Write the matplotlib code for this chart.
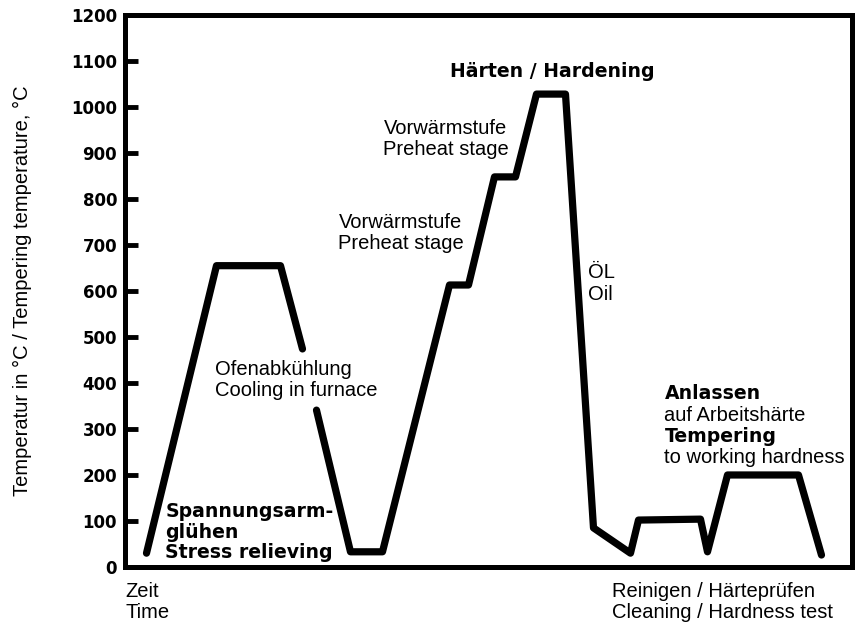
import numpy as np
import matplotlib
matplotlib.use("Agg")
import matplotlib.pyplot as plt

# time axis is arbitrary; temperatures in degC
time = [21, 91, 155, 177, np.nan, 191, 225, 257, 324, 343, 369, 390, 411, 440,
        468, 505, 513, 575, 582, 602, 673, 696]
temp = [30, 655, 655, 474, np.nan, 341, 33, 33, 613, 613, 848, 848, 1028, 1028,
        85, 30, 102, 104, 33, 200, 200, 26]
y_ticks = list(range(0, 1300, 100))

regular = {"family": "Liberation Sans", "size": 14.5}
bold = {"family": "DejaVu Sans", "size": 13.6, "weight": "bold"}

fig = plt.figure(figsize=(8.56, 6.29), dpi=100, facecolor="white")
ax = fig.add_axes([0.1466, 0.0986, 0.8493, 0.8776])

ax.plot(time, temp, color="black", lw=5.2, solid_joinstyle="round",
        solid_capstyle="round")

ax.set_xlim(0, 727)
ax.set_ylim(0, 1200)
ax.set_xticks([])
ax.set_yticks(y_ticks)
ax.set_yticklabels([str(v) for v in y_ticks],
                   fontdict={"family": "DejaVu Sans", "size": 12, "weight": "bold"})
ax.tick_params(axis="y", direction="in", length=9, width=3.5, pad=6)
for s in ax.spines.values():
    s.set_linewidth(3.6)

# annotations
ax.text(427, 1078, "Härten / Hardening", ha="center", va="center", fontdict=bold)
ax.text(258, 930, "Vorwärmstufe\nPreheat stage", ha="left", va="center",
        linespacing=1.16, fontdict=regular)
ax.text(213, 726, "Vorwärmstufe\nPreheat stage", ha="left", va="center",
        linespacing=1.16, fontdict=regular)
ax.text(463, 616, "ÖL\nOil", ha="left", va="center", linespacing=1.16,
        fontdict=regular)
ax.text(90, 406, "Ofenabkühlung\nCooling in furnace", ha="left", va="center",
        linespacing=1.16, fontdict=regular)
ax.text(40, 76, "Spannungsarm-\nglühen\nStress relieving", ha="left",
        va="center", linespacing=1.13, fontdict=bold)
ax.text(539, 378, "Anlassen", ha="left", va="center", fontdict=bold)
ax.text(539, 330, "auf Arbeitshärte", ha="left", va="center", fontdict=regular)
ax.text(539, 283, "Tempering", ha="left", va="center", fontdict=bold)
ax.text(539, 237, "to working hardness", ha="left", va="center", fontdict=regular)

ax.text(0, -76, "Zeit\nTime", ha="left", va="center", linespacing=1.16,
        fontdict=regular, clip_on=False)
ax.text(487, -76, "Reinigen / Härteprüfen\nCleaning / Hardness test", ha="left",
        va="center", linespacing=1.16, fontdict=regular, clip_on=False)

fig.text(22 / 856, 1 - 291 / 629, "Temperatur in °C / Tempering temperature, °C",
         rotation=90, ha="center", va="center", fontdict=regular)

fig.savefig("out.png", dpi=100)
